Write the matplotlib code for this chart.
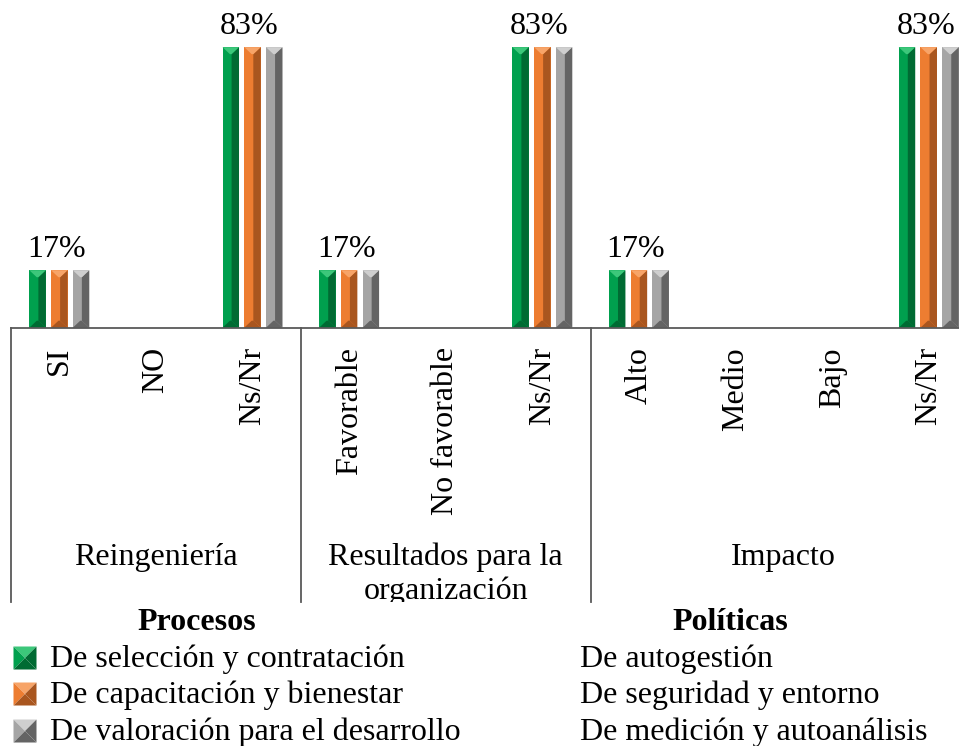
import matplotlib.pyplot as plt
from matplotlib.patches import Polygon

plt.rcParams['font.family'] = ['Liberation Serif', 'DejaVu Serif']

categorias = ['SI', 'NO', 'Ns/Nr', 'Favorable', 'No favorable', 'Ns/Nr',
              'Alto', 'Medio', 'Bajo', 'Ns/Nr']
grupos = ['Reingeniería', 'Resultados para la\norganización', 'Impacto']
grupo_tam = [3, 3, 4]

procesos = ['De selección y contratación', 'De capacitación y bienestar',
            'De valoración para el desarrollo']
seleccion = [17, 0, 83, 17, 0, 83, 17, 0, 0, 83]
capacitacion = [17, 0, 83, 17, 0, 83, 17, 0, 0, 83]
valoracion = [17, 0, 83, 17, 0, 83, 17, 0, 0, 83]

politicas = ['De autogestión', 'De seguridad y entorno', 'De medición y autoanálisis']

# (base, claro, oscuro) por serie
colores = [('#00A04E', '#3CC77A', '#006B33'),
           ('#ED7D31', '#F7A468', '#A9561F'),
           ('#A5A5A5', '#CFCFCF', '#646464')]

W, H = 959, 746
px_y = 3.38          # pixeles por punto porcentual
base_y = 327.7       # linea de base (px desde arriba)
x_izq, ancho_slot = 11, 96.6
fin_cat = 602
fs = 23

fig = plt.figure(figsize=(W / 100, H / 100), dpi=100)
ax = fig.add_axes([x_izq / W, (H - base_y) / H, 10 * ancho_slot / W, base_y / H])
ax.set_xlim(-0.5, 9.5)
ax.set_ylim(0, base_y / px_y)
for s in ['top', 'left', 'right']:
    ax.spines[s].set_visible(False)
ax.spines['bottom'].set_color('#595959')
ax.spines['bottom'].set_linewidth(1.3)
ax.set_xticks([])
ax.set_yticks([])
ax.patch.set_alpha(0)

w = 0.171
paso = 0.225
bx = 0.45 * w           # bisel horizontal
by = 7 / px_y           # bisel vertical


def barra(xc, h, cols):
    base, claro, oscuro = cols
    x0, x1 = xc - w / 2, xc + w / 2
    ax.bar(xc, h, w, color=base, edgecolor='none')
    bb = min(by, h / 2)
    # caras del bisel
    ax.add_patch(Polygon([(x1, 0), (x1, h), (x1 - bx, h - bb), (x1 - bx, bb)],
                         color=oscuro, lw=0))
    ax.add_patch(Polygon([(x0, h), (x1, h), (x1 - bx, h - bb), (x0 + bx, h - bb)],
                         color=claro, lw=0))
    ax.add_patch(Polygon([(x0, 0), (x1, 0), (x1 - bx, bb), (x0 + bx, bb)],
                         color=oscuro, lw=0))


series = [seleccion, capacitacion, valoracion]
for k, (vals, cols) in enumerate(zip(series, colores)):
    for i, v in enumerate(vals):
        if v > 0:
            barra(i + (k - 1) * paso, v, cols)

for i, v in enumerate(capacitacion):
    if v > 0:
        ax.annotate(f'{v}%', (i, v), xytext=(-3, 13), textcoords='offset pixels',
                    ha='center', va='baseline', fontsize=fs)

# banda de categorias
cax = fig.add_axes([x_izq / W, (H - fin_cat) / H, 10 * ancho_slot / W,
                    (fin_cat - base_y) / H])
cax.set_xlim(-0.5, 9.5)
cax.set_ylim(fin_cat, base_y)
cax.axis('off')

for i, c in enumerate(categorias):
    cax.text(i, 347, c, rotation=90, ha='center', va='top', fontsize=fs)

inicio = -0.5
cax.axvline(inicio, color='#595959', lw=1.3, clip_on=False)
for g, n in zip(grupos, grupo_tam):
    for j, linea in enumerate(g.split('\n')):
        cax.text(inicio + n / 2, 565 + 34 * j, linea, ha='center', va='baseline',
                 fontsize=fs, clip_on=True)
    inicio += n
    cax.axvline(inicio, color='#595959', lw=1.3, clip_on=False)

# leyenda
ov = fig.add_axes([0, 0, 1, 1])
ov.set_xlim(0, W)
ov.set_ylim(H, 0)
ov.axis('off')

ov.text(197, 630, 'Procesos', ha='center', va='baseline', fontsize=fs,
        fontweight='bold')
ov.text(730, 630, 'Políticas', ha='center', va='baseline', fontsize=fs,
        fontweight='bold')

filas = [667, 703, 740]
for nombre, cols, yb in zip(procesos, colores, filas):
    base, claro, oscuro = cols
    cx, cy, r = 25, yb - 9, 11.5
    ov.add_patch(Polygon([(cx - r, cy - r), (cx + r, cy - r), (cx, cy)], color=claro, lw=0))
    ov.add_patch(Polygon([(cx - r, cy - r), (cx - r, cy + r), (cx, cy)], color=base, lw=0))
    ov.add_patch(Polygon([(cx + r, cy - r), (cx + r, cy + r), (cx, cy)], color=oscuro, lw=0))
    ov.add_patch(Polygon([(cx - r, cy + r), (cx + r, cy + r), (cx, cy)], color=oscuro, lw=0))
    ov.text(50, yb, nombre, ha='left', va='baseline', fontsize=fs)

for nombre, yb in zip(politicas, filas):
    ov.text(580, yb, nombre, ha='left', va='baseline', fontsize=fs)

fig.savefig('out.png', dpi=100)
